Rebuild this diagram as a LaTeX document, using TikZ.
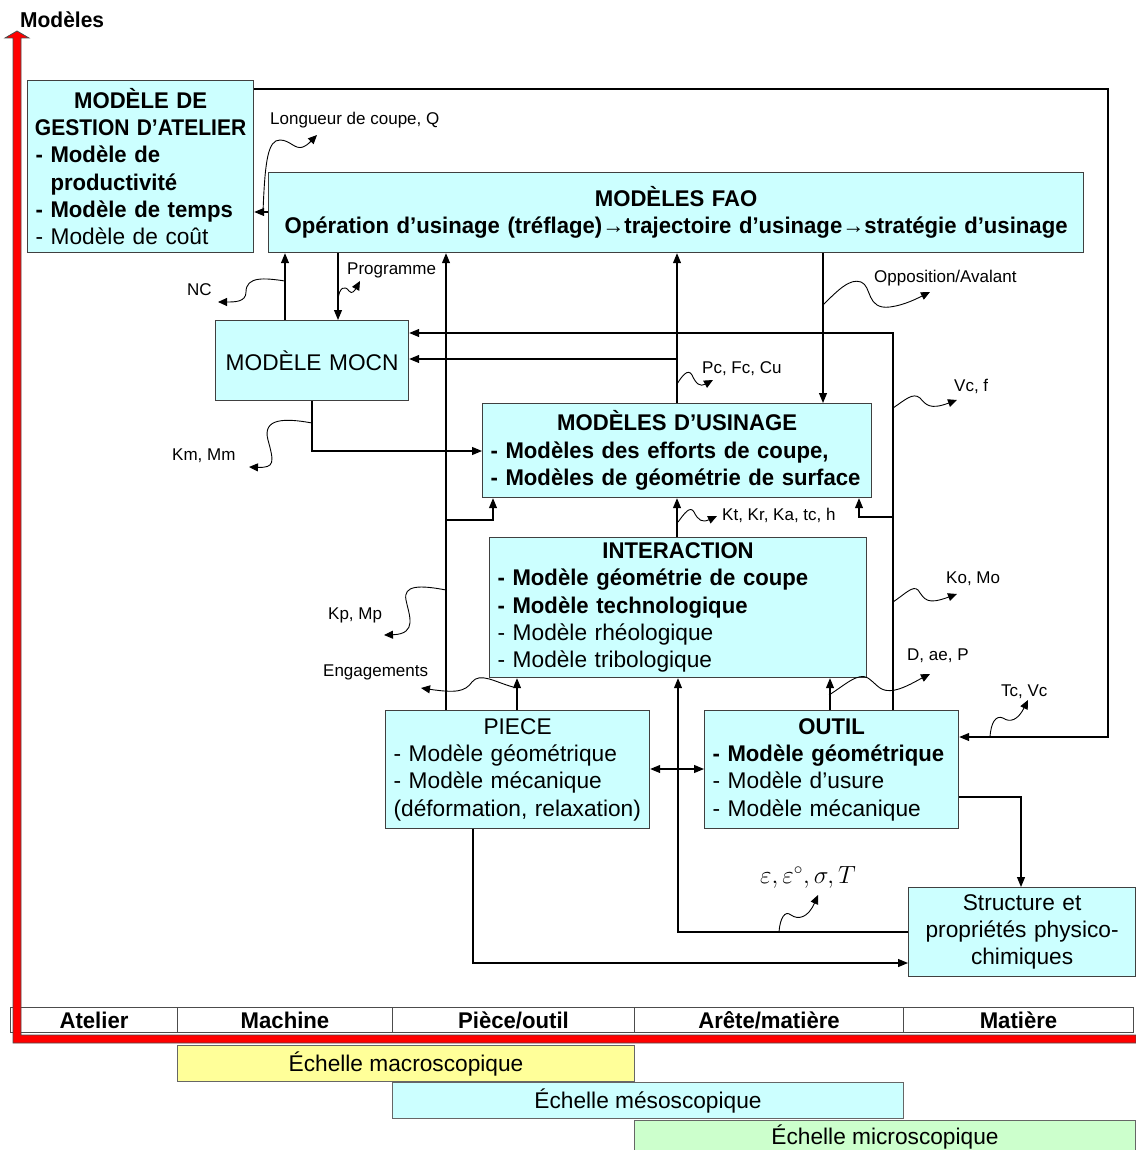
\documentclass[tikz,border=0pt]{standalone}
\usepackage{fontspec}
\setmainfont{Liberation Sans}[BoldFeatures={FakeStretch=0.975}]
\usetikzlibrary{arrows.meta}
\definecolor{cyanbox}{RGB}{204,255,255}
\definecolor{jaune}{RGB}{255,255,153}
\definecolor{vert}{RGB}{204,255,204}
\newcommand{\fte}{\fontsize{22.7}{27.3}\selectfont}
\newcommand{\ftp}{\fontsize{17}{20}\selectfont}
\newcommand{\ctr}[1]{\makebox[\hsize]{#1}}
\tikzset{boite/.style={draw=black!75, line width=1.2pt, fill=cyanbox, anchor=north west,
         inner xsep=8pt, inner ysep=0pt, align=left, font=\fte},
         fl/.style={-{Triangle[length=10pt,width=8pt]}, line width=1.1pt},
         fl2/.style={{Triangle[length=10pt,width=8pt]}-{Triangle[length=10pt,width=8pt]}, line width=1.1pt},
         ond/.style={-{Triangle[length=9pt,width=8pt]}, line width=0.9pt},
         etiq/.style={anchor=west, inner sep=0pt, font=\ftp},
         case/.style={draw=black!70, line width=1pt, anchor=north west, minimum height=25pt,
         inner sep=0pt, font=\fte\bfseries},
         echelle/.style={draw=black!60, line width=1pt, anchor=north west, minimum height=36pt,
         inner sep=0pt, font=\fte}}

\begin{document}
\begin{tikzpicture}[x=1pt,y=-1pt]
      \useasboundingbox (0,0) rectangle (1135,1150);

      \node[boite, text width=210pt, minimum height=172pt] (atelier) at (27,80)
        {\ctr{\bfseries MODÈLE DE}\\ \ctr{\scalebox{0.95}[1]{\bfseries GESTION D’ATELIER}}\\ \textbf{- Modèle de}\\
         \textbf{\phantom{- }productivité}\\ \textbf{- Modèle de temps}\\ - Modèle de coût};
      \node[boite, text width=799pt, minimum height=80pt] (fao) at (268,172)
        {\ctr{\bfseries MODÈLES FAO}\\
         \ctr{\bfseries Opération d’usinage (tréflage)→trajectoire d’usinage→stratégie d’usinage}};
      \node[boite, text width=177pt, minimum height=80pt, align=center] (mocn) at (215,320) {MODÈLE MOCN};
      \node[boite, text width=373pt, minimum height=94pt] (usinage) at (482,403)
        {\ctr{\bfseries MODÈLES D’USINAGE}\\ \textbf{- Modèles des efforts de coupe,}\\
         \mbox{\bfseries - Modèles de géométrie de surface}};
      \node[boite, text width=361pt, minimum height=140pt] (interaction) at (489,537)
        {\ctr{\bfseries INTERACTION}\\ \textbf{- Modèle géométrie de coupe}\\ \textbf{- Modèle technologique}\\
         - Modèle rhéologique\\ - Modèle tribologique};
      \node[boite, text width=248pt, minimum height=118pt] (piece) at (385,710)
        {\ctr{PIECE}\\ - Modèle géométrique\\ - Modèle mécanique\\ (déformation, relaxation)};
      \node[boite, text width=238pt, minimum height=118pt] (outil) at (704,710)
        {\ctr{\bfseries OUTIL}\\ \textbf{- Modèle géométrique}\\ - Modèle d’usure\\ - Modèle mécanique};
      \node[boite, text width=211pt, minimum height=89pt, align=center] (structure) at (908,887)
        {Structure et\\ propriétés physico-\\ chimiques};

      \draw[fl] (atelier.east |- 0,89) -- (1108,89) -- (1108,737) -- (outil.east |- 0,737);
      \draw[fl] (fao.west |- 0,212) -- (atelier.east |- 0,212);
      \draw[fl] (mocn.north -| 285,0) -- (fao.south -| 285,0);
      \draw[fl] (fao.south -| 338,0) -- (mocn.north -| 338,0);
      \draw[fl] (piece.north -| 446,0) -- (fao.south -| 446,0);
      \draw[fl] (446,520) -| (usinage.south -| 493,0);
      \draw[fl] (usinage.north -| 677,0) -- (fao.south -| 677,0);
      \draw[fl] (677,359) -- (mocn.east |- 0,359);
      \draw[fl] (fao.south -| 823,0) -- (usinage.north -| 823,0);
      \draw[fl] (outil.north -| 893,0) -- (893,333) -- (mocn.east |- 0,333);
      \draw[fl] (893,517) -| (usinage.south -| 859,0);
      \draw[fl] (mocn.south -| 312,0) |- (usinage.west |- 0,451);
      \draw[fl] (interaction.north -| 677,0) -- (usinage.south -| 677,0);
      \draw[fl] (piece.north -| 517,0) -- (interaction.south -| 517,0);
      \draw[fl] (outil.north -| 830,0) -- (interaction.south -| 830,0);
      \draw[fl2] (piece.east |- 0,769) -- (outil.west |- 0,769);
      \draw[fl] (structure.west |- 0,932) -| (interaction.south -| 678,0);
      \draw[fl] (piece.south -| 473,0) |- (structure.west |- 0,963);
      \draw[fl] (outil.east |- 0,797) -| (structure.north -| 1021,0);

      \draw[ond] (263,212) .. controls (265,160) and (268,140) .. (280,140)
        .. controls (290,140) and (295,150) .. (303,147) .. controls (308,145) and (312,140) .. (317,135);
      \draw[ond] (285,281) .. controls (265,278) and (246,276) .. (246,292)
        .. controls (246,302) and (235,302) .. (218,302);
      \draw[ond] (338,300) .. controls (339,287) and (345,285) .. (349,291)
        .. controls (352,295) and (355,290) .. (360,281);
      \draw[ond] (312,423) .. controls (285,418) and (262,418) .. (268,440)
        .. controls (274,462) and (275,468) .. (249,467);
      \draw[ond] (823,305) .. controls (838,290) and (850,278) .. (861,282)
        .. controls (872,286) and (866,310) .. (890,307) .. controls (905,305) and (918,298) .. (930,292);
      \draw[ond] (677,384) .. controls (682,376) and (688,368) .. (692,375)
        .. controls (696,384) and (700,387) .. (713,380);
      \draw[ond] (893,408) .. controls (905,400) and (913,392) .. (920,398)
        .. controls (926,405) and (930,410) .. (957,400);
      \draw[ond] (678,522) .. controls (684,514) and (690,505) .. (694,512)
        .. controls (698,520) and (702,523) .. (717,516);
      \draw[ond] (446,590) .. controls (420,585) and (403,585) .. (406,600)
        .. controls (409,615) and (418,634) .. (384,635);
      \draw[ond] (513,687) .. controls (495,682) and (480,672) .. (472,682)
        .. controls (465,692) and (455,693) .. (421,688);
      \draw[ond] (829,695) .. controls (845,685) and (858,672) .. (868,678)
        .. controls (878,685) and (880,693) .. (895,690) .. controls (905,688) and (918,680) .. (930,674);
      \draw[ond] (893,602) .. controls (905,594) and (913,585) .. (918,590)
        .. controls (925,600) and (927,605) .. (957,594);
      \draw[ond] (990,737) .. controls (991,722) and (996,715) .. (1003,718)
        .. controls (1010,723) and (1018,720) .. (1028,700);
      \draw[ond] (779,932) .. controls (780,918) and (785,910) .. (791,915)
        .. controls (798,920) and (808,918) .. (818,895);

      \node[etiq] (longueur) at (270,120) {Longueur de coupe, Q};
      \node[etiq] (nc) at (187,290) {NC};
      \node[etiq] (programme) at (347,270) {Programme};
      \node[etiq] (opposition) at (874,278) {Opposition/Avalant};
      \node[etiq] (pcfc) at (702,369) {Pc, Fc, Cu};
      \node[etiq] (vcf) at (954,386) {Vc, f};
      \node[etiq] (kmmm) at (172,456) {Km, Mm};
      \node[etiq] (ktkr) at (722,515) {Kt, Kr, Ka, tc, h};
      \node[etiq] (kpmp) at (328,615) {Kp, Mp};
      \node[etiq] (komo) at (946,579) {Ko, Mo};
      \node[etiq] (engag) at (323,672) {Engagements};
      \node[etiq] (daep) at (907,656) {D, ae, P};
      \node[etiq] (tcvc) at (1001,692) {Tc, Vc};
      \node[etiq, font=\fontsize{27}{30}\selectfont] (thermo) at (760,877)
        {$\varepsilon,\varepsilon^{\circ},\sigma,T$};

      \node[case, minimum width=167pt] (c1) at (10,1007) {Atelier};
      \node[case, minimum width=215pt] (c2) at (177,1007) {Machine};
      \node[case, minimum width=242pt] (c3) at (392,1007) {Pièce/outil};
      \node[case, minimum width=269pt] (c4) at (634,1007) {Arête/matière};
      \node[case, minimum width=230pt] (c5) at (903,1007) {Matière};

      \filldraw[fill=red, draw=black!70, line width=0.8pt] (13,1043) -- (13,38) -- (5,38) -- (17,31)
        -- (29,38) -- (21,38) -- (21,1035) -- (1136,1035) -- (1136,1043) -- cycle;
      \node[anchor=west, inner sep=0pt, font=\fontsize{21.5}{24}\selectfont\bfseries] (modeles) at (20,20) {Modèles};

      \node[echelle, fill=jaune, minimum width=457pt] (macro) at (177,1045) {Échelle macroscopique};
      \node[echelle, fill=cyanbox, minimum width=511pt] (meso) at (392,1082) {Échelle mésoscopique};
      \node[echelle, fill=vert, minimum width=501pt, minimum height=32pt] (micro) at (634,1120) {Échelle microscopique};
\end{tikzpicture}
\end{document}
